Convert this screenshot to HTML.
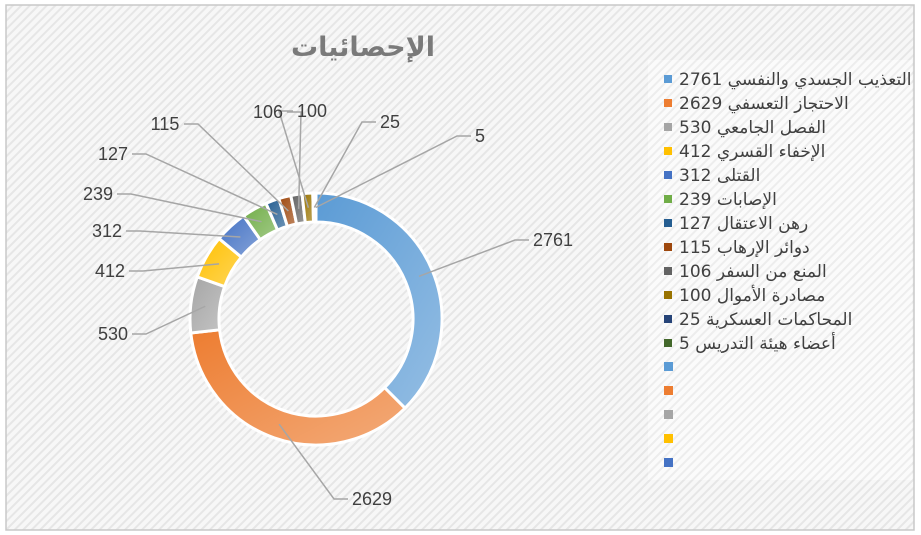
<!DOCTYPE html>
<html><head><meta charset="utf-8">
<style>
html,body{margin:0;padding:0;width:921px;height:535px;overflow:hidden;background:#fff}
#chart{position:absolute;left:0;top:0}
.lbl{font-family:"Liberation Sans","DejaVu Sans",sans-serif;font-size:18px;fill:#404040}
.leg{font-family:"DejaVu Sans","Noto Sans CJK SC",sans-serif;font-size:17px;fill:#404040}
</style></head><body>
<svg id="chart" width="921" height="535" xmlns="http://www.w3.org/2000/svg">
<defs>
<pattern id="hatch" width="6" height="6" patternUnits="userSpaceOnUse" patternTransform="rotate(45)">
<rect width="6" height="6" fill="#f7f7f7"/><rect width="2" height="6" fill="#e6e6e6"/>
</pattern>
<pattern id="hatch2" width="6" height="6" patternUnits="userSpaceOnUse" patternTransform="rotate(45)">
<rect width="6" height="6" fill="#fbfbfb"/><rect width="2" height="6" fill="#ededed"/>
</pattern>
<linearGradient id="shine" x1="0" y1="0" x2="1" y2="1">
<stop offset="0" stop-color="#fff" stop-opacity="0"/><stop offset="1" stop-color="#fff" stop-opacity="0.35"/>
</linearGradient>
</defs>
<rect x="0" y="0" width="921" height="535" fill="#fff"/>
<rect x="6" y="5" width="908" height="525" fill="url(#hatch)" stroke="#c8c8c8" stroke-width="1.5"/>
<rect x="648" y="60" width="264" height="420" fill="url(#hatch2)"/>
<text x="363" y="56" text-anchor="middle" font-family="DejaVu Sans,sans-serif" font-weight="bold" font-size="27" fill="#7a7a7a" direction="rtl">الإحصائيات</text>
<g id="slices"></g>
<g id="leaders"></g>
<g id="labels"></g>
<g id="legend"></g>
</svg>
<script>
const categories=["التعذيب الجسدي والنفسي","الاحتجاز التعسفي","الفصل الجامعي","الإخفاء القسري","القتلى","الإصابات","رهن الاعتقال","دوائر الإرهاب","المنع من السفر","مصادرة الأموال","المحاكمات العسكرية","أعضاء هيئة التدريس"];
const values=[2761,2629,530,412,312,239,127,115,106,100,25,5];
const valueLabels=["2761","2629","530","412","312","239","127","115","106","100","25","5"];
const colors=["#5b9bd5","#ed7d31","#a5a5a5","#ffc000","#4472c4","#70ad47","#255e91","#9e480e","#636363","#997300","#264478","#43682b"];
const labelPos=[[553,246],[372,505],[113,340],[110,277],[107,237],[98,200],[113,160],[165,130],[268,118],[312,117],[390,128],[480,142]];
const emptyLegendColors=["#5b9bd5","#ed7d31","#a5a5a5","#ffc000","#4472c4"];

const NS="http://www.w3.org/2000/svg";
const cx=316,cy=319,R=126,r=97;
const total=values.reduce((a,b)=>a+b,0);
function pt(a,rad){return [cx+rad*Math.sin(a),cy-rad*Math.cos(a)];}
function mk(t,attrs){const e=document.createElementNS(NS,t);for(const k in attrs)e.setAttribute(k,attrs[k]);return e;}
const gS=document.getElementById('slices'),gL=document.getElementById('leaders'),gT=document.getElementById('labels'),gG=document.getElementById('legend');
let acc=0;
values.forEach((v,i)=>{
  const a0=acc/total*2*Math.PI; acc+=v; const a1=acc/total*2*Math.PI;
  const large=(a1-a0)>Math.PI?1:0;
  const p0=pt(a0,R),p1=pt(a1,R),q1=pt(a1,r),q0=pt(a0,r);
  const d=`M${p0[0]},${p0[1]}A${R},${R} 0 ${large} 1 ${p1[0]},${p1[1]}L${q1[0]},${q1[1]}A${r},${r} 0 ${large} 0 ${q0[0]},${q0[1]}Z`;
  const p=mk('path',{d:d,fill:colors[i],stroke:'#fff','stroke-width':3,'stroke-linejoin':'round'});
  
  
  gS.appendChild(p);
  const sh=mk('path',{d:d,fill:'url(#shine)'});
  
  
  gS.appendChild(sh);
  const am=(a0+a1)/2; const m=pt(am,(R+r)/2);
  const lp=labelPos[i];
  const w=valueLabels[i].length*10;
  const side=lp[0]<m[0]?1:-1;
  const ex=lp[0]+side*(w/2+4), ey=lp[1]-6;
  const hx=ex+side*14;
  const ln=mk('polyline',{points:`${ex},${ey} ${hx},${ey} ${m[0]},${m[1]}`,fill:'none',stroke:'#a6a6a6','stroke-width':1.5});
  
  
  gL.appendChild(ln);
  const t=mk('text',{x:lp[0],y:lp[1],'text-anchor':'middle',class:'lbl'});
  t.textContent=valueLabels[i];
  
  
  gT.appendChild(t);
  const y=85+i*24;
  const sq=mk('rect',{x:664,y:y-10,width:8,height:8,fill:colors[i]});
  
  
  gG.appendChild(sq);
  const lt=mk('text',{x:679,y:y,class:'leg',direction:'rtl','unicode-bidi':'embed','text-anchor':'end'});
  lt.textContent=categories[i]+' '+valueLabels[i];
  
  
  gG.appendChild(lt);
});
emptyLegendColors.forEach((c,j)=>{
  const y=372+j*24;
  const sq=mk('rect',{x:664,y:y-10,width:9,height:9,fill:c});
  
  
  gG.appendChild(sq);
});
</script>
</body></html>
